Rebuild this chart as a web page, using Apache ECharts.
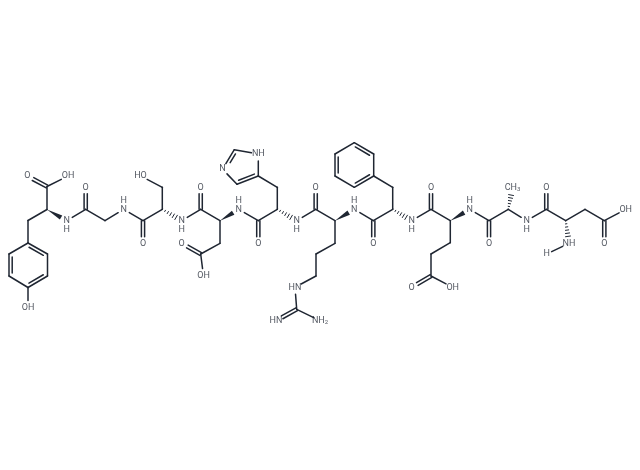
<!DOCTYPE html>
<html><head><meta charset="utf-8">
<style>html,body{margin:0;padding:0;background:#fff}#c{width:640px;height:470px}</style>
<script src="https://cdn.jsdelivr.net/npm/echarts@6/dist/echarts.min.js"></script>
</head><body><div id="c"></div>
<script>
// atoms: [x, y, label]
const atoms = [
/*0*/[47,186.5,''],[27.3,176,'O'],[68,176,'OH'],[47,209.5,''],[28,220.5,''],[28,243,''],[47.5,254,''],[47.5,276,''],[28,287.5,''],[9,276,''],[9,254,''],[28,308,'OH'],
/*12*/[66.7,220.7,'N'],[85.7,209.3,''],[85.7,187.3,'O'],[105,220.7,''],[123.7,209.3,'N'],[143,220.7,''],[143,243.3,'O'],[162.3,209.3,''],[162.3,187.3,''],[140.5,176,'HO'],
/*22*/[181.7,220.7,'N'],[200.7,209.3,''],[200.7,187.3,'O'],[220,220.7,''],[220,243.3,''],[200.7,254,''],[181.7,243.3,'O'],[203.5,276,'OH'],
/*30*/[238.7,209.3,'N'],[258.3,220.7,''],[258.3,243.3,'O'],[277.3,209.3,''],[277.3,187.3,''],[258.3,176,''],[237,184.3,''],[222.5,169.2,'N'],[234.3,149.7,''],[258.3,154,'NH'],
/*40*/[296.7,220.7,'N'],[315.7,209.3,''],[315.7,187.3,'O'],[335,220.7,''],[335,243.3,''],[316,254,''],[316,276,''],[295,287.3,'HN'],[296.7,309.3,''],[276,320.7,'HN'],[320,320.7,'NH2'],
/*51*/[354.3,209.3,'N'],[373.3,220.7,''],[373.3,243.3,'O'],[392.7,209.3,''],[392.7,187.3,''],[373.7,176,''],[373.7,154,''],[354.3,142.7,''],[335,154,''],[335,176,''],[354.3,187.3,''],
/*62*/[411.7,220.7,'N'],[431,209.3,''],[431,187.3,'O'],[450.3,220.7,''],[450.3,242.7,''],[431,254,''],[431,276,''],[411.7,287.3,'O'],[452.7,287.3,'OH'],
/*71*/[469.7,209.3,'N'],[489,220.7,''],[489,243.3,'O'],[508.3,209.3,''],[512.5,187.7,'CH3'],[526.7,220.7,'N'],[546.3,209.3,''],[546.3,187.3,'O'],[565.7,220.7,''],[585,209.3,''],[604.3,220.7,''],[604.3,243.3,'O'],[625.7,209.3,'OH'],[569,243.3,'NH'],[546.7,254,'H']
];
// detached H labels drawn next to amide nitrogens
const hydrogens = [[66.7,229.5,'H'],[123.7,201,'H'],[181.7,229.5,'H'],[238.7,201,'H'],[296.7,229.5,'H'],[354.3,201,'H'],[411.7,229.5,'H'],[469.7,201,'H'],[526.7,229.5,'H']];
// bonds: [from, to, kind] kind: 1 single, 2 double centred, 3 double inner-left, 4 double inner-right, 5 wedge, 6 hash
const bonds = [
[0,1,2],[0,2,1],[3,0,1],[3,4,1],[4,5,1],[5,6,3],[6,7,1],[7,8,3],[8,9,1],[9,10,3],[10,5,1],[8,11,1],[3,12,5],
[12,13,1],[13,14,2],[13,15,1],[15,16,1],[16,17,1],[17,18,2],[17,19,1],[19,20,1],[20,21,1],[19,22,6],
[22,23,1],[23,24,2],[23,25,1],[25,26,1],[26,27,1],[27,28,2],[27,29,1],[25,30,5],
[30,31,1],[31,32,2],[31,33,1],[33,34,1],[34,35,1],[35,36,3],[36,37,1],[37,38,3],[38,39,1],[39,35,1],[33,40,6],
[40,41,1],[41,42,2],[41,43,1],[43,44,1],[44,45,1],[45,46,1],[46,47,1],[47,48,1],[48,49,2],[48,50,1],[43,51,5],
[51,52,1],[52,53,2],[52,54,1],[54,55,1],[55,56,1],[56,57,1],[57,58,4],[58,59,1],[59,60,4],[60,61,1],[61,56,4],[54,62,6],
[62,63,1],[63,64,2],[63,65,1],[65,66,1],[66,67,1],[67,68,1],[68,69,2],[68,70,1],[65,71,5],
[71,72,1],[72,73,2],[72,74,1],[74,75,6],[74,76,1],[76,77,1],[77,78,2],[77,79,1],[79,80,1],[80,81,1],[81,82,2],[81,83,1],[79,84,6],[84,85,1]
];
const ink = '#1f2632';
const gaps = {O:6.5,N:6.5,H:5.5,OH:7.5,HO:7.5,NH:7,HN:7,NH2:7,CH3:7.5};

function trim(p, q, a, b) {
  const dx=q[0]-p[0], dy=q[1]-p[1], L=Math.hypot(dx,dy)||1;
  const ga=gaps[a]||0, gb=gaps[b]||0;
  return [[p[0]+dx*ga/L,p[1]+dy*ga/L],[q[0]-dx*gb/L,q[1]-dy*gb/L]];
}
function seg(a,b,w){return {type:'line',shape:{x1:a[0],y1:a[1],x2:b[0],y2:b[1]},style:{stroke:ink,lineWidth:w||1.5,lineCap:'round'}};}

function renderBond(params, api) {
  const b = bonds[params.dataIndex];
  const A = atoms[b[0]], B = atoms[b[1]], kind = b[2];
  const [p,q] = trim(api.coord([A[0],A[1]]), api.coord([B[0],B[1]]), A[2], B[2]);
  const dx=q[0]-p[0], dy=q[1]-p[1], L=Math.hypot(dx,dy)||1, ux=dx/L, uy=dy/L, nx=-uy, ny=ux;
  const kids=[];
  const off=(P,d)=>[P[0]+nx*d,P[1]+ny*d];
  if(kind===1) kids.push(seg(p,q));
  else if(kind===2){ kids.push(seg(off(p,1.6),off(q,1.6))); kids.push(seg(off(p,-1.6),off(q,-1.6))); }
  else if(kind===3||kind===4){
    const d=kind===3?3.2:-3.2, s=3;
    kids.push(seg(p,q));
    kids.push(seg(off([p[0]+ux*s,p[1]+uy*s],d),off([q[0]-ux*s,q[1]-uy*s],d)));
  }
  else if(kind===5){
    kids.push({type:'polygon',shape:{points:[p,off(q,2.4),off(q,-2.4)]},style:{fill:ink}});
  }
  else {
    const n=6;
    for(let i=0;i<n;i++){
      const t=i/(n-1), c=[p[0]+dx*t,p[1]+dy*t], w=0.3+t*2.2;
      kids.push(seg(off(c,w),off(c,-w),1));
    }
  }
  return {type:'group',children:kids};
}

const labelled = atoms.filter(a=>a[2]).concat(hydrogens);
const fmt = {NH2:'NH{s|2}',CH3:'CH{s|3}'};
const chart = echarts.init(document.getElementById('c'),null,{renderer:'canvas'});
chart.setOption({
  animation:false, backgroundColor:'#fff',
  grid:{left:0,right:0,top:0,bottom:0},
  xAxis:{type:'value',min:0,max:640,show:false},
  yAxis:{type:'value',min:0,max:470,inverse:true,show:false},
  series:[
    {type:'custom',coordinateSystem:'cartesian2d',renderItem:renderBond,data:bonds.map(b=>[atoms[b[0]][0],atoms[b[0]][1]]),silent:true},
    {type:'scatter',symbolSize:0,silent:true,
     data:labelled.map(a=>({value:[a[0],a[1]],name:a[2]})),
     label:{show:true,position:'inside',align:'center',verticalAlign:'middle',color:ink,fontFamily:'Roboto',fontSize:9,
       formatter:p=>fmt[p.name]||p.name,
       rich:{s:{fontSize:6,fontFamily:'Roboto',color:ink,padding:[4,0,0,0]}}}}
  ]
});
</script></body></html>
